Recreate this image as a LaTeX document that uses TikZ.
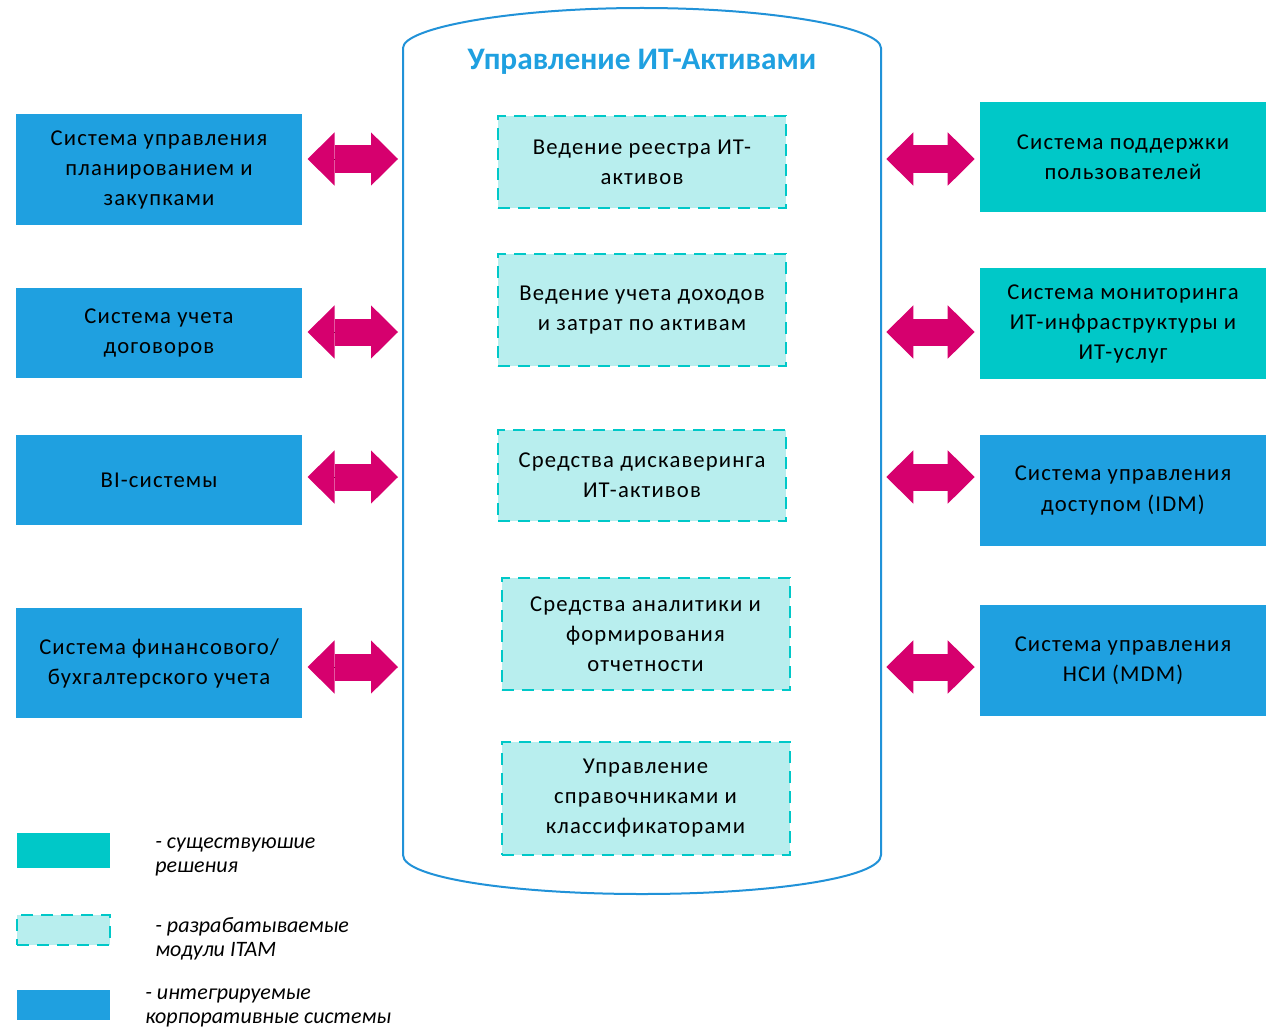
\documentclass[tikz,border=0pt]{standalone}
\usepackage{fontspec}
\setmainfont{Carlito}
\usetikzlibrary{arrows.meta,positioning}
\definecolor{sysblue}{HTML}{1FA0E0}
\definecolor{systeal}{HTML}{00C8C8}
\definecolor{modfill}{HTML}{B8EEEE}
\definecolor{linkmag}{HTML}{D6006E}
\definecolor{cylline}{HTML}{2192D8}
\begin{document}
\begin{tikzpicture}[x=0.75pt,y=-0.75pt,font=\fontsize{17}{22.5}\selectfont\addfontfeature{LetterSpace=5},
 sys/.style={fill=sysblue,inner sep=2pt,align=center,minimum width=214.5pt},
 ext/.style={fill=systeal,inner sep=2pt,align=center,minimum width=214.5pt},
 mod/.style={draw=systeal,dash pattern=on 9pt off 6pt,line width=1.5pt,fill=modfill,inner sep=2pt,align=center,minimum width=216pt},
 link/.style={line width=20.25pt,color=linkmag,shorten <=4pt,shorten >=3.75pt,
  {Triangle[length=20.25pt,width=40pt,line width=0pt]}-{Triangle[length=20.25pt,width=40pt,line width=0pt]},
  preaction={draw,-,shorten <=18pt,shorten >=18pt}},
 leg/.style={font=\fontsize{16.5}{18}\selectfont\itshape,align=left,anchor=west,inner sep=0pt}]
\useasboundingbox (0,0) rectangle (1273,1027);
% ITAM container
\draw[cylline,line width=1.5pt] (403,855) -- (403,48)
  .. controls (403,28) and (510,8) .. (642,8)
  .. controls (774,8) and (881,28) .. (881,48) -- (881,855)
  .. controls (881,878) and (770,894) .. (642,894)
  .. controls (514,894) and (403,878) .. cycle;
\coordinate (cw) at (403,0);
\coordinate (ce) at (881,0);
\node[font=\fontsize{23.5}{26}\selectfont\bfseries,text=sysblue] (title) at (642,62) {Управление ИТ-Активами};
% modules
\node[mod,minimum height=69pt] (m1) at (642,162) {Ведение реестра ИТ-\\активов};
\node[mod,minimum height=84pt] (m2) at (642,310) {Ведение учета доходов\\и затрат по активам};
\node[mod,minimum height=68.25pt] (m3) at (642,475.5) {Средства дискаверинга\\ИТ-активов};
\node[mod,minimum height=84pt] (m4) at (645.5,634) {Средства аналитики и\\формирования\\отчетности};
\node[mod,minimum height=84.75pt] (m5) at (645.5,798.5) {Управление\\справочниками и\\классификаторами};
% systems on the left
\node[sys,minimum height=83.25pt] (l1) at (159,169.5) {Система управления\\планированием и\\закупками};
\node[sys,minimum height=67.5pt] (l2) at (159,333) {Система учета\\договоров};
\node[sys,minimum height=67.5pt] (l3) at (159,480) {BI-системы};
\node[sys,minimum height=82.5pt] (l4) at (159,663) {Система финансового/\\бухгалтерского учета};
% systems on the right
\node[ext,minimum height=82.5pt] (r1) at (1123,157) {Система поддержки\\пользователей};
\node[ext,minimum height=83.25pt] (r2) at (1123,323.5) {Система мониторинга\\ИТ-инфраструктуры и\\ИТ-услуг};
\node[sys,minimum height=83.25pt] (r3) at (1123,490.5) {Система управления\\доступом (IDM)};
\node[sys,minimum height=83.25pt] (r4) at (1123,660.5) {Система управления\\НСИ (MDM)};
% integration links
\coordinate (y1) at (0,159);
\coordinate (y2) at (0,332);
\coordinate (y3) at (0,477);
\coordinate (y4) at (0,667);
\draw[link] (l1.east|-y1) -- (cw|-y1);
\draw[link] (l2.east|-y2) -- (cw|-y2);
\draw[link] (l3.east|-y3) -- (cw|-y3);
\draw[link] (l4.east|-y4) -- (cw|-y4);
\draw[link] (ce|-y1) -- (r1.west|-y1);
\draw[link] (ce|-y2) -- (r2.west|-y2);
\draw[link] (ce|-y3) -- (r3.west|-y3);
\draw[link] (ce|-y4) -- (r4.west|-y4);
% legend
\node[fill=systeal,minimum width=69.75pt,minimum height=26.25pt,inner sep=0pt] (k1) at (63.5,850.5) {};
\node[mod,minimum width=69.75pt,minimum height=22.5pt,inner sep=0pt] (k2) at (63.5,929.5) {};
\node[fill=sysblue,minimum width=69.75pt,minimum height=22.5pt,inner sep=0pt] (k3) at (63.5,1004.5) {};
\node[leg] (t1) at (155,857) {- существуюшие\\решения};
\node[leg] (t2) at (155,939) {- разрабатываемые\\модули ITAM};
\node[leg] (t3) at (145,1008) {- интегрируемые\\корпоративные системы};
\end{tikzpicture}
\end{document}
